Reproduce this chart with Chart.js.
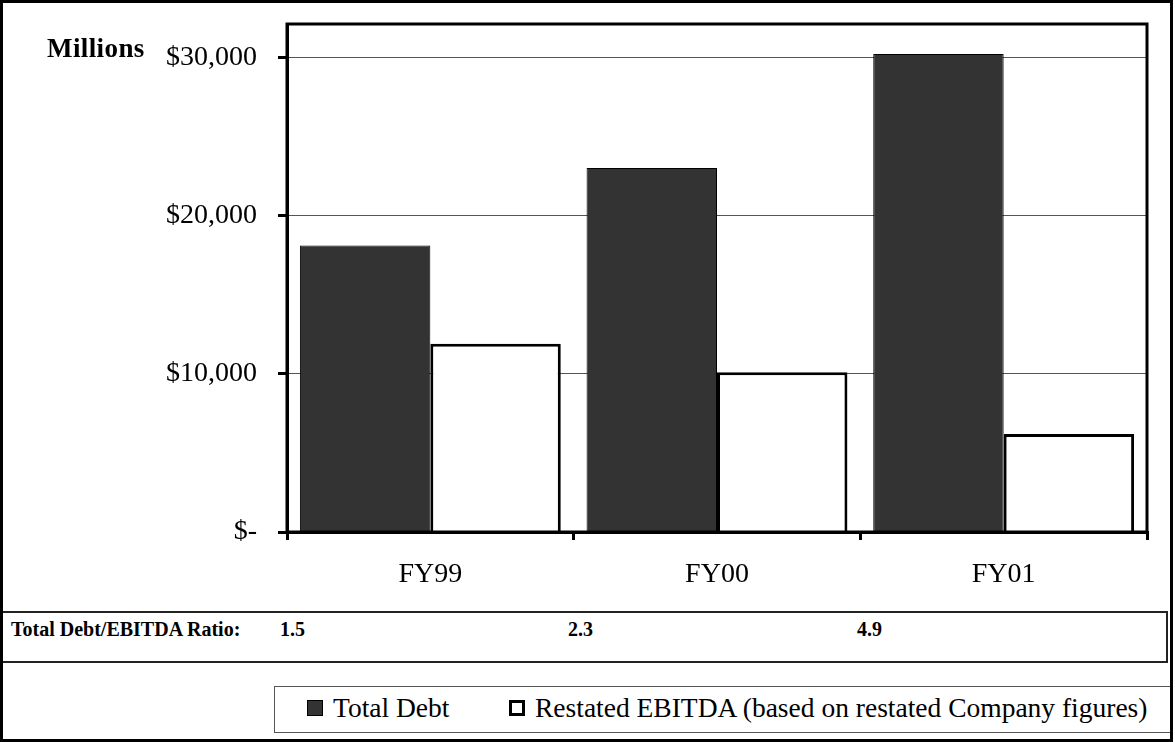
<!DOCTYPE html>
<html>
<head>
<meta charset="utf-8">
<script src="https://cdn.jsdelivr.net/npm/chart.js@4.4.1/dist/chart.umd.min.js"></script>
<style>
  body { margin: 0; background: #fff; font-family: "Liberation Serif", "Times New Roman", serif; }
  #wrap { position: relative; width: 1175px; height: 742px; overflow: hidden; }
  #chartBox { position: absolute; left: 0; top: 0; width: 1175px; height: 600px; }
  #outer { position: absolute; left: 0; top: 0; width: 1173px; height: 742px; border: 3px solid #000; box-sizing: border-box; pointer-events: none; }
  #millions { position: absolute; left: 47px; top: 33px; font-size: 27px; font-weight: bold; letter-spacing: 0.4px; }
  #ratioRow { position: absolute; left: 0; top: 611px; width: 1168px; height: 52px; border: 2px solid #222; box-sizing: border-box; }
  #ratioRow span { position: absolute; top: 5px; font-size: 20px; font-weight: bold; }
  #legend { position: absolute; left: 274px; top: 686px; width: 897px; height: 47px; border: 1px solid #555; box-sizing: border-box; font-size: 27.5px; }
  #legend .item { position: absolute; top: 5px; white-space: nowrap; }
  #legend .swatch { display: inline-block; width: 16px; height: 16px; margin-right: 10px; vertical-align: 1px; box-sizing: border-box; }
</style>
</head>
<body>
<div id="wrap">
  <div id="chartBox"><canvas id="myChart"></canvas></div>
  <div id="millions">Millions</div>
  <div id="ratioRow"></div>
  <div id="legend"></div>
  <div id="outer"></div>
</div>
<script>
// values ($ millions)
const categories = ["FY99", "FY00", "FY01"];
const totalDebt = [18100, 23000, 30200];
const restatedEbitda = [11900, 10100, 6200];
const yTicks = [0, 10000, 20000, 30000];
const ratioLabel = "Total Debt/EBITDA Ratio:";
const ratios = ["1.5", "2.3", "4.9"];
const seriesNames = ["Total Debt", "Restated EBITDA (based on restated Company figures)"];

const serif = "'Liberation Serif', 'Times New Roman', serif";

// frame round the plot area
const framePlugin = {
  id: "frame",
  afterDraw(chart) {
    const { ctx, chartArea: a } = chart;
    ctx.save();
    ctx.strokeStyle = "#000";
    ctx.lineWidth = 3;
    ctx.strokeRect(a.left, a.top, a.right - a.left, a.bottom - a.top);
    ctx.restore();
  },
};

var ctx = document.getElementById("myChart").getContext("2d");
var myChart = new Chart(ctx, {
  type: "bar",
  data: {
    labels: categories,
    datasets: [
      {
        label: seriesNames[0],
        data: totalDebt,
        backgroundColor: "#333333",
        borderColor: "#000",
        borderWidth: 1,
      },
      {
        label: seriesNames[1],
        data: restatedEbitda,
        backgroundColor: "#ffffff",
        borderColor: "#000",
        borderWidth: 3,
      },
    ],
  },
  options: {
    responsive: true,
    maintainAspectRatio: false,
    animation: false,
    datasets: { bar: { categoryPercentage: 0.91, barPercentage: 1.0 } },
    layout: { padding: { top: 24, right: 28, left: 0, bottom: 0 } },
    plugins: { legend: { display: false }, tooltip: { enabled: false } },
    scales: {
      x: {
        grid: { display: true, drawOnChartArea: false, offset: true, color: "#000", lineWidth: 3, tickLength: 8 },
        border: { color: "#000", width: 3 },
        ticks: { color: "#000", font: { family: serif, size: 28 }, padding: 18 },
        afterFit(scale) { scale.height = 68; },
      },
      y: {
        min: 0,
        max: 32100,
        afterBuildTicks(scale) { scale.ticks = yTicks.map((v) => ({ value: v })); },
        grid: { color: "#555", lineWidth: 1, tickColor: "#000", tickWidth: 3, tickLength: 9 },
        border: { color: "#000", width: 3 },
        ticks: {
          color: "#000",
          font: { family: serif, size: 28 },
          padding: 21,
          callback: (v) => (v === 0 ? "$-" : "$" + v.toLocaleString("en-US")),
        },
        afterFit(scale) {
          scale.width = 287;
          // don't let the label padding push the plot down
          scale.paddingTop = 0;
          scale.paddingBottom = 0;
        },
      },
    },
  },
  plugins: [framePlugin],
});

// ratio row under the chart
const row = document.getElementById("ratioRow");
const lab = document.createElement("span");
lab.textContent = ratioLabel;
lab.style.left = "9px";
row.appendChild(lab);
const ratioLeft = [278, 566, 855];
ratios.forEach((r, i) => {
  const s = document.createElement("span");
  s.textContent = r;
  s.style.left = ratioLeft[i] + "px";
  row.appendChild(s);
});

// legend box
const legend = document.getElementById("legend");
const legendLeft = [32, 234];
myChart.data.datasets.forEach((ds, i) => {
  const item = document.createElement("div");
  item.className = "item";
  item.style.left = legendLeft[i] + "px";
  const sw = document.createElement("span");
  sw.className = "swatch";
  sw.style.background = ds.backgroundColor;
  sw.style.border = (i === 0 ? 1 : 3) + "px solid #000";
  item.appendChild(sw);
  item.appendChild(document.createTextNode(ds.label));
  legend.appendChild(item);
});
</script>
</body>
</html>
